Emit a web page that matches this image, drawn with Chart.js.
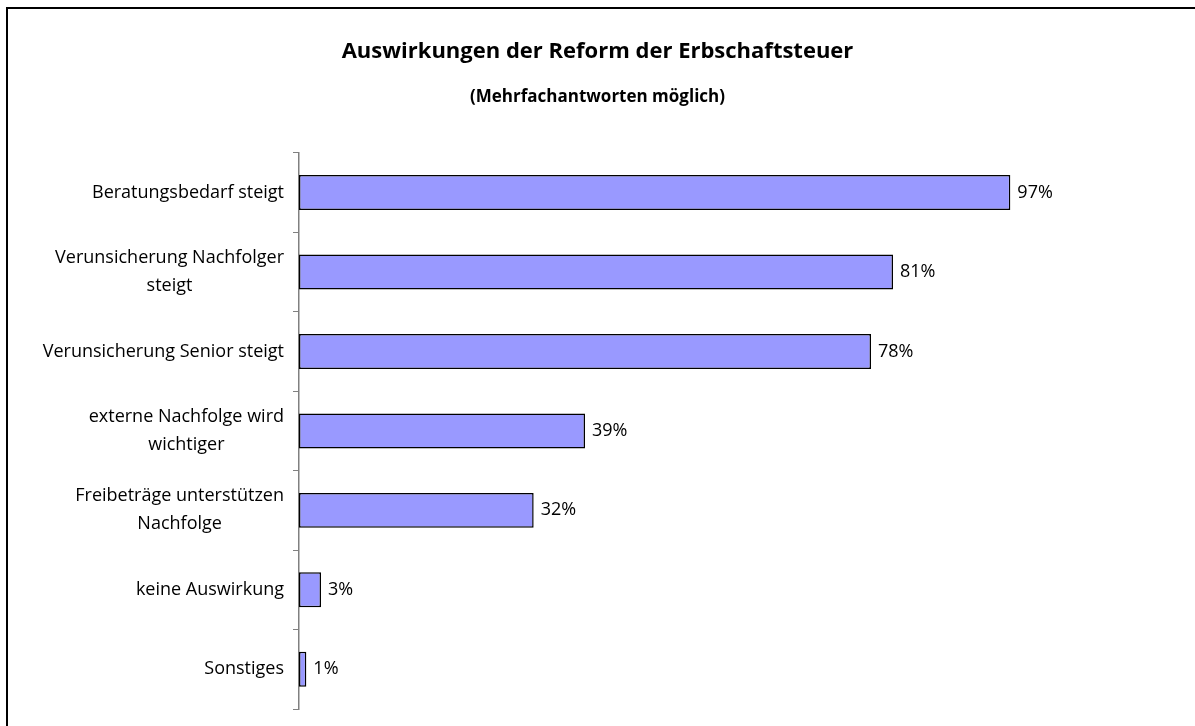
<!DOCTYPE html>
<html>
<head>
<meta charset="utf-8">
<script src="https://cdn.jsdelivr.net/npm/chart.js@4/dist/chart.umd.min.js"></script>
<style>
  html, body { margin: 0; padding: 0; background: #fff; }
  #wrap { width: 1195px; height: 726px; position: relative; }
</style>
</head>
<body>
<div id="wrap"><canvas id="chart"></canvas></div>
<script>
// data
const categories = [
  ['Beratungsbedarf steigt'],
  ['Verunsicherung Nachfolger', 'steigt'],
  ['Verunsicherung Senior steigt'],
  ['externe Nachfolge wird', 'wichtiger'],
  ['Freibeträge unterstützen', 'Nachfolge'],
  ['keine Auswirkung'],
  ['Sonstiges']
];
const shares = [97, 81, 78, 39, 32, 3, 1];
const valueLabels = ['97%', '81%', '78%', '39%', '32%', '3%', '1%'];

const FONT = '"Open Sans", "Noto Sans", sans-serif';

// outer frame (only top and left edges are inside the picture)
const framePlugin = {
  id: 'frame',
  beforeDraw(chart) {
    const ctx = chart.ctx;
    ctx.save();
    ctx.fillStyle = '#fff';
    ctx.fillRect(0, 0, chart.width, chart.height);
    ctx.fillStyle = '#000';
    ctx.fillRect(6, 7, chart.width - 6, 2);
    ctx.fillRect(6, 7, 2, chart.height - 7);
    ctx.restore();
  }
};

// category labels: each block right aligned, extra lines centred under the first
const catLabelPlugin = {
  id: 'catLabels',
  afterDraw(chart) {
    const ctx = chart.ctx;
    const yScale = chart.scales.y;
    const right = yScale.right - 15;
    const lineH = 28;
    ctx.save();
    ctx.font = '18px ' + FONT;
    ctx.fillStyle = '#000';
    ctx.textAlign = 'center';
    ctx.textBaseline = 'middle';
    categories.forEach((lines, i) => {
      const cy = yScale.getPixelForValue(i);
      const w = Math.max(...lines.map(l => ctx.measureText(l).width));
      const cx = right - w / 2;
      const top = cy - (lines.length - 1) * lineH / 2;
      lines.forEach((l, j) => ctx.fillText(l, cx, top + j * lineH));
    });
    ctx.restore();
  }
};

// value labels right of each bar
const valuePlugin = {
  id: 'values',
  afterDatasetsDraw(chart) {
    const ctx = chart.ctx;
    const meta = chart.getDatasetMeta(0);
    ctx.save();
    ctx.font = '18px ' + FONT;
    ctx.fillStyle = '#000';
    ctx.textAlign = 'left';
    ctx.textBaseline = 'middle';
    meta.data.forEach((bar, i) => {
      ctx.fillText(valueLabels[i], bar.x + 7, bar.y);
    });
    ctx.restore();
  }
};

new Chart(document.getElementById('chart'), {
  type: 'bar',
  data: {
    labels: categories.map(c => c.join(' ')),
    datasets: [{
      data: shares,
      backgroundColor: '#9999FF',
      borderColor: '#000',
      borderWidth: 1.5,
      borderSkipped: false,
      categoryPercentage: 1,
      barPercentage: 0.44
    }]
  },
  options: {
    indexAxis: 'y',
    responsive: true,
    maintainAspectRatio: false,
    animation: false,
    events: [],
    layout: { padding: { left: 16, top: 0, right: 16, bottom: 17 } },
    plugins: {
      legend: { display: false },
      tooltip: { enabled: false },
      title: {
        display: true,
        text: 'Auswirkungen der Reform der Erbschaftsteuer',
        color: '#000',
        font: { family: FONT, size: 22, weight: 'bold', lineHeight: 1.2 },
        padding: { top: 39, bottom: 10 }
      },
      subtitle: {
        display: true,
        text: '(Mehrfachantworten möglich)',
        color: '#000',
        font: { family: FONT, size: 17, weight: 'bold', lineHeight: 1.2 },
        padding: { top: 12, bottom: 45 }
      }
    },
    scales: {
      x: { display: false, min: 0, max: 120 },
      y: {
        offset: true,
        afterFit(scale) { scale.width = 283; },
        ticks: { color: 'rgba(0,0,0,0)', font: { family: FONT, size: 15 } },
        grid: {
          offset: true,
          drawOnChartArea: false,
          drawTicks: true,
          tickLength: 6,
          color: '#808080',
          lineWidth: 1
        },
        border: { display: true, color: '#808080', width: 1.5 }
      }
    }
  },
  plugins: [framePlugin, catLabelPlugin, valuePlugin]
});
</script>
</body>
</html>
